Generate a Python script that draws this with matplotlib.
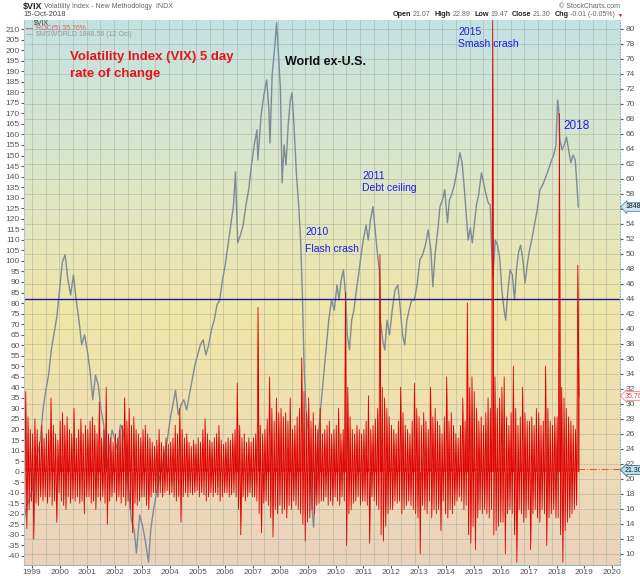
import numpy as np
import matplotlib
matplotlib.use("Agg")
import matplotlib.pyplot as plt
from matplotlib.colors import LinearSegmentedColormap

plt.rcParams['font.family'] = ['Liberation Sans', 'DejaVu Sans']
plt.rcParams['axes.unicode_minus'] = False

# VIX 5-day rate of change (%), two swings per month (peak, trough)
roc_1998 = [24, -22, 38, -27, 26, -18, 20, -14]          # from Sep 1998
roc_1999 = [18, -32, 25, -15, 20, -16, 14, -12, 22, -14, 16, -12,
            18, -15, 20, -12, 35, -16, 22, -14, 18, -24, 15, -10]
roc_2000 = [24, -14, 28, -16, 22, -18, 26, -12, 20, -15, 18, -13,
            30, -14, 16, -12, 20, -15, 25, -14, 18, -20, 22, -12]
roc_2001 = [20, -12, 24, -15, 26, -14, 22, -18, 18, -12, 33, -14,
            16, -12, 20, -15, 40, -25, 18, -14, 16, -12, 14, -10]
roc_2002 = [18, -14, 16, -12, 20, -15, 22, -12, 35, -16, 24, -14,
            30, -18, 22, -29, 26, -15, 20, -16, 18, -14, 16, -12]
roc_2003 = [20, -12, 22, -16, 18, -18, 16, -12, 14, -10, 12, -10,
            15, -12, 20, -10, 14, -12, 12, -10, 16, -9, 13, -11]
roc_2004 = [14, -10, 16, -12, 22, -14, 18, -12, 30, -24, 20, -12,
            16, -10, 18, -12, 14, -10, 12, -11, 15, -10, 13, -9]
roc_2005 = [16, -12, 14, -10, 20, -11, 25, -14, 18, -12, 15, -10,
            14, -12, 16, -10, 18, -11, 22, -14, 15, -12, 13, -10]
roc_2006 = [14, -10, 16, -12, 15, -11, 18, -10, 20, -12, 42, -18,
            22, -30, 16, -12, 18, -14, 14, -12, 16, -10, 14, -12]
roc_2007 = [16, -12, 18, -14, 78, -20, 22, -29, 18, -15, 20, -14,
            25, -16, 45, -22, 30, -31, 24, -18, 35, -20, 28, -16]
roc_2008 = [30, -20, 26, -18, 28, -22, 24, -16, 35, -18, 20, -14,
            22, -16, 26, -18, 30, -20, 54, -25, 38, -33, 28, -24]
roc_2009 = [35, -22, 24, -18, 28, -20, 22, -16, 20, -15, 30, -14,
            18, -14, 20, -12, 22, -16, 24, -14, 18, -16, 20, -12]
roc_2010 = [22, -14, 30, -16, 18, -12, 20, -14, 85, -35, 40, -20,
            26, -18, 20, -15, 18, -14, 22, -12, 20, -16, 18, -14]
roc_2011 = [20, -14, 24, -16, 36, -34, 20, -12, 22, -14, 25, -16,
            30, -18, 103, -30, 40, -33, 35, -26, 30, -20, 26, -18]
roc_2012 = [22, -18, 20, -14, 18, -15, 24, -14, 40, -20, 28, -18,
            22, -16, 20, -14, 18, -16, 24, -18, 42, -20, 30, -22]
roc_2013 = [26, -39, 22, -16, 28, -18, 24, -20, 20, -14, 40, -22,
            26, -18, 30, -20, 24, -18, 22, -28, 18, -14, 26, -20]
roc_2014 = [45, -22, 24, -18, 28, -20, 22, -16, 18, -14, 16, -12,
            22, -14, 35, -18, 24, -16, 80, -30, 40, -34, 45, -26]
roc_2015 = [38, -37, 30, -22, 24, -18, 26, -20, 22, -18, 28, -20,
            35, -22, 30, -18, 215, -30, 45, -28, 30, -26, 35, -24]
roc_2016 = [40, -24, 45, -39, 26, -20, 22, -18, 28, -20, 50, -30,
            30, -43, 22, -18, 26, -20, 40, -24, 28, -22, 24, -18]
roc_2017 = [24, -37, 26, -20, 22, -18, 30, -22, 28, -24, 22, -18,
            24, -20, 50, -35, 30, -22, 24, -20, 22, -18, 26, -22]
roc_2018 = [26, -22, 170, -30, 40, -43, 35, -28, 30, -24, 26, -22,
            24, -20, 22, -18, 20, -16, 98, 35.76]

roc_years = [roc_1998, roc_1999, roc_2000, roc_2001, roc_2002, roc_2003, roc_2004,
             roc_2005, roc_2006, roc_2007, roc_2008, roc_2009, roc_2010, roc_2011,
             roc_2012, roc_2013, roc_2014, roc_2015, roc_2016, roc_2017, roc_2018]

# World ex-U.S. index ($MSWORLD) (decimal year, level)
msworld_t = [1998.72, 1998.8, 1998.9, 1999.0, 1999.1, 1999.2, 1999.3, 1999.4, 1999.5,
             1999.6, 1999.7, 1999.8, 1999.9, 2000.0, 2000.1, 2000.2, 2000.3, 2000.4,
             2000.5, 2000.6, 2000.7, 2000.8, 2000.9, 2001.0, 2001.1, 2001.2, 2001.3,
             2001.4, 2001.5, 2001.6, 2001.7, 2001.8, 2001.9, 2002.0, 2002.1, 2002.2,
             2002.3, 2002.4, 2002.5, 2002.6, 2002.7, 2002.78, 2002.9, 2003.0, 2003.1,
             2003.22, 2003.3, 2003.4, 2003.5, 2003.6, 2003.7, 2003.8, 2003.9, 2004.0,
             2004.1, 2004.2, 2004.3, 2004.4, 2004.5, 2004.6, 2004.7, 2004.8, 2004.9,
             2005.0, 2005.1, 2005.2, 2005.3, 2005.4, 2005.5, 2005.6, 2005.7, 2005.8,
             2005.9, 2006.0, 2006.1, 2006.2, 2006.3, 2006.37, 2006.45, 2006.55, 2006.65,
             2006.75, 2006.85, 2006.95, 2007.05, 2007.15, 2007.18, 2007.3, 2007.4, 2007.5,
             2007.58, 2007.62, 2007.7, 2007.8, 2007.86, 2007.93, 2008.0, 2008.06, 2008.13,
             2008.2, 2008.28, 2008.36, 2008.42, 2008.5, 2008.58, 2008.66, 2008.73, 2008.8,
             2008.86, 2008.93, 2009.0, 2009.08, 2009.15, 2009.2, 2009.28, 2009.36, 2009.45,
             2009.55, 2009.65, 2009.75, 2009.85, 2009.95, 2010.05, 2010.12, 2010.2, 2010.28,
             2010.36, 2010.42, 2010.5, 2010.58, 2010.66, 2010.75, 2010.83, 2010.92, 2011.0,
             2011.1, 2011.18, 2011.26, 2011.35, 2011.43, 2011.5, 2011.58, 2011.62, 2011.7,
             2011.78, 2011.86, 2011.95, 2012.05, 2012.15, 2012.25, 2012.33, 2012.42, 2012.5,
             2012.58, 2012.66, 2012.75, 2012.85, 2012.95, 2013.05, 2013.15, 2013.25, 2013.35,
             2013.45, 2013.52, 2013.6, 2013.7, 2013.78, 2013.87, 2013.95, 2014.05, 2014.12,
             2014.2, 2014.3, 2014.4, 2014.5, 2014.58, 2014.65, 2014.72, 2014.8, 2014.88,
             2014.95, 2015.02, 2015.1, 2015.18, 2015.28, 2015.36, 2015.45, 2015.53, 2015.6,
             2015.65, 2015.7, 2015.78, 2015.86, 2015.94, 2016.02, 2016.1, 2016.16, 2016.24,
             2016.32, 2016.4, 2016.48, 2016.55, 2016.62, 2016.7, 2016.78, 2016.86, 2016.94,
             2017.02, 2017.1, 2017.2, 2017.3, 2017.4, 2017.5, 2017.6, 2017.7, 2017.8,
             2017.9, 2017.98, 2018.04, 2018.08, 2018.12, 2018.2, 2018.28, 2018.36, 2018.44,
             2018.52, 2018.6, 2018.68, 2018.74, 2018.79]
msworld_v = [1164, 1197, 1208, 1230, 1274, 1306, 1339, 1405, 1448,
             1481, 1536, 1573, 1608, 1667, 1728, 1744, 1689, 1656,
             1700, 1645, 1601, 1547, 1569, 1536, 1492, 1427, 1481,
             1459, 1405, 1372, 1274, 1317, 1361, 1339, 1317, 1372,
             1361, 1306, 1230, 1164, 1142, 1092, 1175, 1153, 1121,
             1072, 1142, 1186, 1219, 1252, 1274, 1306, 1339, 1383,
             1416, 1448, 1394, 1416, 1427, 1405, 1437, 1470, 1503,
             1525, 1547, 1558, 1525, 1547, 1580, 1601, 1634, 1645,
             1689, 1722, 1765, 1809, 1853, 1925, 1770, 1787, 1809,
             1853, 1886, 1940, 1984, 2017, 1951, 2050, 2093, 2126,
             2061, 1988, 2137, 2203, 2251, 2181, 2104, 1901, 1984,
             1940, 2028, 2082, 2098, 2017, 1918, 1853, 1776, 1645,
             1492, 1405, 1361, 1274, 1186, 1149, 1252, 1339, 1405,
             1470, 1536, 1601, 1645, 1623, 1678, 1645, 1689, 1711,
             1656, 1569, 1536, 1601, 1623, 1667, 1700, 1743, 1776,
             1809, 1776, 1820, 1849, 1798, 1754, 1711, 1601, 1558,
             1536, 1601, 1569, 1623, 1667, 1678, 1634, 1569, 1547,
             1601, 1623, 1645, 1645, 1678, 1733, 1744, 1765, 1798,
             1754, 1674, 1744, 1798, 1849, 1864, 1886, 1814, 1864,
             1875, 1897, 1929, 1967, 1945, 1897, 1842, 1776, 1803,
             1770, 1809, 1853, 1875, 1923, 1901, 1875, 1857, 1853,
             1754, 1696, 1776, 1765, 1739, 1667, 1623, 1601, 1667,
             1711, 1700, 1645, 1711, 1748, 1765, 1733, 1682, 1722,
             1754, 1776, 1809, 1842, 1886, 1897, 1912, 1929, 1947,
             1962, 1984, 2082, 2061, 1995, 1973, 1984, 2001, 1973,
             1945, 1962, 1951, 1897, 1848.56]

year_labels = list(range(1999, 2021))
roc_ticks = list(range(-40, 211, 5))
vix_ticks = list(range(10, 81, 2))
vix_close = 21.30
level_line = 44
ohlc = [('Open', '21.07'), ('High', '22.89'), ('Low', '19.47'),
        ('Close', '21.30'), ('Chg', '-0.01 (-0.05%)')]

# positions of the half-month swings
roc_t, roc_v = [], []
for k, vals in enumerate(roc_years):
    yr = 1998 + k
    start = 16 if yr == 1998 else 0
    for i, v in enumerate(vals):
        roc_t.append(yr + (start + i + 0.5) / 24)
        roc_v.append(v)

W, H = 640, 576
fig = plt.figure(figsize=(W / 100, H / 100), dpi=100)
rect = [24 / W, 11 / H, 596 / W, 545 / H]
xlim = (1998.71, 2020.3)
roc_lim = (-44.3, 214.3)
vix_lim = (8.53, 81.2)


def fpx(x, y):
    return x / W, 1 - y / H


# background + grid
ax_bg = fig.add_axes(rect, zorder=0)
bg = LinearSegmentedColormap.from_list('bg', [(0, '#c3e2e3'), (0.3, '#dee6c6'),
                                              (0.55, '#f1e6a8'), (0.8, '#eedcb4'),
                                              (1, '#ebd2bd')])
ax_bg.imshow(np.linspace(0, 1, 256).reshape(-1, 1), cmap=bg, aspect='auto',
             extent=[0, 1, 0, 1], transform=ax_bg.transAxes)
ax_bg.set_xlim(*xlim)
ax_bg.set_ylim(*vix_lim)
ax_bg.set_xticks(np.arange(1999, 2020.6, 0.5))
ax_bg.set_yticks(vix_ticks)
ax_bg.grid(True, color='#a9b09c', lw=0.6, alpha=0.6)
ax_bg.tick_params(length=0, labelleft=False, labelbottom=False)
for s in ax_bg.spines.values():
    s.set_visible(False)

# MSWORLD on its own hidden scale
ax_g = fig.add_axes(rect, zorder=1)
ax_g.patch.set_visible(False)
ax_g.plot(msworld_t, msworld_v, color='#7d8b99', lw=1.0)
ax_g.set_xlim(*xlim)
ax_g.set_ylim(1066, 2257)
ax_g.axis('off')

# right axis: VIX price scale
ax_r = fig.add_axes(rect, zorder=2)
ax_r.patch.set_visible(False)
ax_r.set_xlim(*xlim)
ax_r.set_ylim(*vix_lim)
ax_r.axhline(level_line, color='#1c1c9a', lw=1.0)
ax_r.axhline(vix_close, color='#e06040', lw=0.8, ls='-.')
ax_r.yaxis.tick_right()
ax_r.set_yticks(vix_ticks)
ax_r.set_yticklabels([str(v) for v in vix_ticks])
ax_r.tick_params(axis='y', length=2, pad=2, labelsize=6, colors='#555555')
ax_r.set_xticks([])
for name, s in ax_r.spines.items():
    s.set_visible(name == 'right')
ax_r.spines['right'].set_color('#8fb4c8')
ax_r.spines['right'].set_linestyle(':')

# main axis: ROC(5)
ax = fig.add_axes(rect, zorder=3)
ax.patch.set_visible(False)
ax.fill_between(roc_t, roc_v, 0, color='#e00000', alpha=0.85, lw=0)
ax.plot(roc_t, roc_v, color='#e00000', lw=0.6)
ax.set_xlim(*xlim)
ax.set_ylim(*roc_lim)
ax.set_yticks(roc_ticks)
ax.set_yticklabels([str(v) for v in roc_ticks])
ax.set_xticks(year_labels)
ax.set_xticklabels([str(y) for y in year_labels])
ax.tick_params(axis='both', length=2, pad=1, labelsize=6, colors='#555555')
for name in ('top', 'right'):
    ax.spines[name].set_visible(False)
ax.spines['left'].set_color('#b8c4cc')
ax.spines['bottom'].set_color('#9fb8c8')

# header
fig.text(*fpx(23, 7), '$VIX', fontsize=6.5, fontweight='bold', color='#222222', va='center')
fig.text(*fpx(44, 7), 'Volatility Index - New Methodology  INDX', fontsize=5, color='#666666', va='center')
fig.text(*fpx(23, 15), '15-Oct-2018', fontsize=5.5, color='#444444', va='center')
fig.text(*fpx(620, 6), '\u00a9 StockCharts.com', fontsize=5, color='#666666', va='center', ha='right')
renderer = fig.canvas.get_renderer()
x = 393
for label, val in ohlc:
    t = fig.text(*fpx(x, 15), label, fontsize=5.2, fontweight='bold', color='#222222', va='center')
    x = t.get_window_extent(renderer).x1 + 1.5
    t = fig.text(*fpx(x, 15), val, fontsize=5, color='#666666', va='center')
    x = t.get_window_extent(renderer).x1 + 4
fig.text(*fpx(x - 2, 15), '\u25bc', fontsize=3.5, color='#cc0000', va='center')

# legend block
fig.text(*fpx(34, 23), '$VIX', fontsize=5, color='#444444', va='center')
fig.text(*fpx(26, 29), '\u2014', fontsize=5, color='#e00000', va='center')
fig.text(*fpx(36, 29), 'ROC(5) 35.76%', fontsize=5, color='#e06060', va='center')
fig.text(*fpx(26, 35), '\u2014', fontsize=5, color='#7d8b99', va='center')
fig.text(*fpx(36, 35), '$MSWORLD 1848.56 (12 Oct)', fontsize=5, color='#999999', va='center')

# annotations
fig.text(*fpx(70, 57), 'Volatility Index (VIX) 5 day', fontsize=9.5, fontweight='bold',
         color='#e8141a', va='center')
fig.text(*fpx(70, 74), 'rate of change', fontsize=9.5, fontweight='bold', color='#e8141a', va='center')
fig.text(*fpx(285, 62), 'World ex-U.S.', fontsize=9, fontweight='bold', color='#111111', va='center')
blue = '#1a1aee'
fig.text(*fpx(305, 232), '2010', fontsize=7.5, color=blue, va='center')
fig.text(*fpx(305, 249), 'Flash crash', fontsize=7.5, color=blue, va='center')
fig.text(*fpx(362, 176), '2011', fontsize=7.5, color=blue, va='center')
fig.text(*fpx(362, 188), 'Debt ceiling', fontsize=7.5, color=blue, va='center')
fig.text(*fpx(458, 32), '2015', fontsize=7.5, color=blue, va='center')
fig.text(*fpx(458, 44), 'Smash crash', fontsize=7.5, color=blue, va='center')
fig.text(*fpx(563, 126), '2018', fontsize=8.5, color=blue, va='center')

# last-value tags on the right edge
fig.text(*fpx(625, 207), '1848.56', fontsize=5, color='#111111', va='center',
         bbox=dict(boxstyle='larrow,pad=0.12', fc='#cbe7f2', ec='#5a8aa0', lw=0.6))
fig.text(*fpx(625, 396), '35.76', fontsize=5, color='#e04040', va='center',
         bbox=dict(boxstyle='larrow,pad=0.12', fc='white', ec='#f08080', lw=0.6))
fig.text(*fpx(625, 470), '21.30', fontsize=5, color='#111111', va='center',
         bbox=dict(boxstyle='larrow,pad=0.12', fc='#bfe3f5', ec='#3a6a80', lw=0.6))

fig.savefig('out.png', dpi=100)
